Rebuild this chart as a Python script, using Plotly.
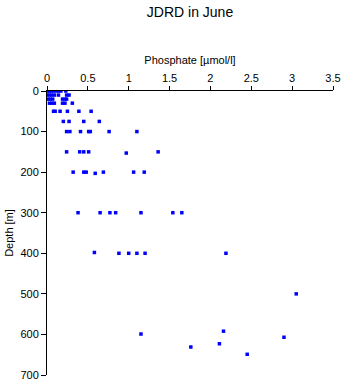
import plotly.graph_objects as go

# Phosphate [µmol/l] and depth [m] samples (JDRD, June)
depth = [0, 0, 0, 0, 0, 0, 0, 0,
         10, 10, 10, 10, 10, 10, 10,
         20, 20, 20, 20, 20, 20,
         30, 30, 30, 30, 30, 30,
         50, 50, 50, 50, 50, 50,
         75, 75, 75, 75,
         100, 100, 100, 100, 100, 100, 100,
         150, 150, 150, 150, 150, 153,
         200, 200, 200, 200, 200, 200, 203,
         300, 300, 300, 300, 300, 300, 300,
         398, 400, 400, 400, 400, 400,
         500,
         592, 599, 607, 623, 631, 649]
phosphate = [0.01, 0.03, 0.05, 0.08, 0.11, 0.14, 0.17, 0.23,
             0.00, 0.03, 0.06, 0.09, 0.14, 0.24, 0.27,
             0.01, 0.04, 0.07, 0.19, 0.22, 0.24,
             0.03, 0.06, 0.09, 0.19, 0.22, 0.31,
             0.08, 0.10, 0.16, 0.25, 0.39, 0.54,
             0.20, 0.27, 0.45, 0.64,
             0.24, 0.28, 0.41, 0.51, 0.53, 0.76, 1.10,
             0.24, 0.40, 0.45, 0.51, 1.36, 0.97,
             0.32, 0.45, 0.48, 0.69, 1.06, 1.19, 0.59,
             0.38, 0.65, 0.77, 0.84, 1.15, 1.54, 1.65,
             0.58, 0.88, 1.00, 1.10, 1.20, 2.19,
             3.05,
             2.16, 1.15, 2.90, 2.11, 1.76, 2.45]

x_ticks = [0, 0.5, 1, 1.5, 2, 2.5, 3, 3.5]
x_tick_labels = ["0", "0.5", "1", "1.5", "2", "2.5", "3", "3.5"]
y_ticks = [0, 100, 200, 300, 400, 500, 600, 700]

font_family = "Liberation Sans, Arial, sans-serif"

fig = go.Figure(go.Scatter(
    x=phosphate, y=depth, mode="markers",
    marker=dict(symbol="square", size=3.5, color="#0000FF", line=dict(width=0)),
    hoverinfo="x+y",
))

fig.update_layout(
    width=343, height=384,
    margin=dict(l=47, r=10, t=91, b=9, autoexpand=False),
    paper_bgcolor="white", plot_bgcolor="white",
    showlegend=False,
    font=dict(family=font_family, size=11, color="black"),
    title=dict(text="JDRD in June", x=(47 + 333) / 2 / 343, xanchor="center",
               y=1 - 12 / 384, yanchor="middle", yref="container",
               font=dict(size=14, color="black", family=font_family)),
    xaxis=dict(side="top", range=[0, 3.5], tickvals=x_ticks, ticktext=x_tick_labels,
               showgrid=False, zeroline=False, showline=True, linecolor="black", linewidth=1,
               ticks="outside", ticklen=4, tickcolor="black", automargin=False,
               title=dict(text="Phosphate [µmol/l]", standoff=4, font=dict(size=11)),
               fixedrange=True),
    yaxis=dict(range=[700, 0], tickvals=y_ticks,
               showgrid=False, zeroline=False, showline=True, linecolor="black", linewidth=1,
               ticks="outside", ticklen=5, tickcolor="black", automargin=False,
               title=dict(text="Depth [m]", standoff=4, font=dict(size=11)),
               fixedrange=True),
)

fig.write_html("out.html",
               post_script="document.body.style.margin='0';document.body.style.overflow='hidden';")
